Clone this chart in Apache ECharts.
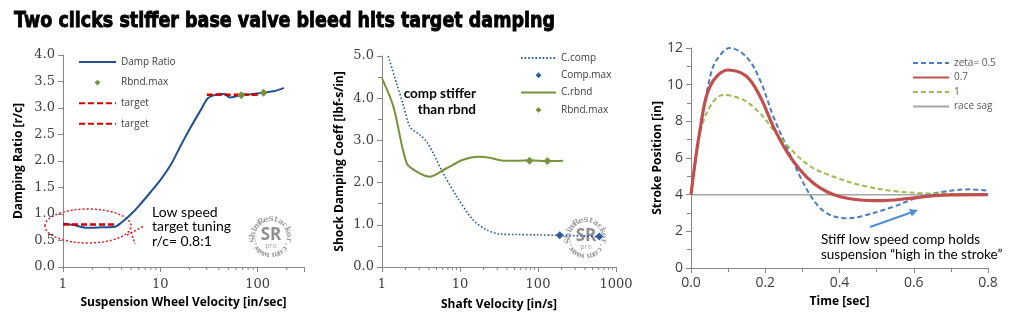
<!DOCTYPE html>
<html>
<head>
<meta charset="utf-8">
<script src="https://cdn.jsdelivr.net/npm/echarts@6/dist/echarts.min.js"></script>
<style>
  html, body { margin: 0; padding: 0; background: #fff; }
  #chart { width: 1024px; height: 329px; }
</style>
</head>
<body>
<div id="chart"></div>
<script>
// ---- left panel: damping ratio vs wheel velocity
const dampVel = [1, 1.3, 1.75, 2.5, 3.4, 4.0, 4.9, 6, 8, 10, 13, 16, 20, 26, 31, 37, 41, 46, 52, 60, 67, 85, 115, 150, 186];
const dampRatio = [0.82, 0.79, 0.74, 0.75, 0.76, 0.84, 0.98, 1.15, 1.42, 1.64, 1.95, 2.27, 2.6, 2.96, 3.19, 3.25, 3.27, 3.26, 3.2, 3.22, 3.24, 3.26, 3.29, 3.32, 3.38];
const wheelMaxVel = [68, 115];
const wheelMaxRatio = [3.24, 3.29];
const targetLowVel = [1, 3.6];
const targetLowRatio = [0.8, 0.8];
const targetHighVel = [30, 105];
const targetHighRatio = [3.25, 3.25];

// ---- middle panel: damping coefficient vs shaft velocity
const compVel = [1.2, 1.54, 1.9, 2.29, 3.07, 3.73, 4.55, 6.1, 9.1, 14.8, 22, 32.5, 53, 100, 190, 620];
const compCoef = [5.0, 4.35, 3.8, 3.32, 3.13, 2.97, 2.69, 2.22, 1.67, 1.11, 0.88, 0.78, 0.77, 0.76, 0.75, 0.72];
const compMaxVel = [190, 610];
const compMaxCoef = [0.75, 0.72];
const rbndVel = [1, 1.4, 2.07, 2.78, 4.1, 6.7, 11, 17, 24, 36, 53, 79, 130, 210];
const rbndCoef = [4.47, 3.8, 2.46, 2.26, 2.14, 2.34, 2.54, 2.61, 2.59, 2.52, 2.52, 2.53, 2.51, 2.52];
const rbndMaxVel = [78, 132];
const rbndMaxCoef = [2.52, 2.51];

// ---- right panel: stroke position vs time
const t05 = [0, 0.024, 0.051, 0.069, 0.105, 0.15, 0.186, 0.222, 0.258, 0.294, 0.33, 0.366, 0.42, 0.455, 0.545, 0.617, 0.68, 0.752, 0.8];
const z05 = [4.0, 7.5, 10.4, 11.35, 12.0, 11.5, 10.25, 8.25, 6.6, 4.98, 3.71, 2.98, 2.71, 2.8, 3.34, 3.89, 4.16, 4.29, 4.22];
const t07 = [0, 0.024, 0.051, 0.1, 0.15, 0.186, 0.222, 0.258, 0.294, 0.33, 0.366, 0.402, 0.455, 0.51, 0.59, 0.68, 0.8];
const z07 = [4.0, 7.5, 9.9, 10.8, 10.45, 9.35, 7.7, 6.35, 5.35, 4.62, 4.16, 3.89, 3.71, 3.67, 3.8, 3.98, 4.0];
const t10 = [0, 0.024, 0.051, 0.087, 0.141, 0.186, 0.222, 0.258, 0.294, 0.33, 0.384, 0.455, 0.545, 0.635, 0.8];
const z10 = [4.0, 7.3, 8.8, 9.44, 9.17, 8.44, 7.53, 6.71, 5.98, 5.44, 4.98, 4.53, 4.2, 4.07, 4.02];
const sagT = [0, 0.8];
const sagY = [4, 4];

// minor tick values for the log axes
const minorTicksLeft = [2, 3, 4, 5, 6, 7, 8, 9, 20, 30, 40, 50, 60, 70, 80, 90, 200];
const minorTicksMid = [2, 3, 4, 5, 6, 7, 8, 9, 20, 30, 40, 50, 60, 70, 80, 90, 200, 300, 400, 500, 600, 700, 800, 900];

const zip = (xs, ys) => xs.map((x, i) => [x, ys[i]]);

const AXIS = '#868686';
const LABEL = '#404040';
const SERIF = 'DejaVu Serif';
const SANS = 'Open Sans';
const NOTE = 'Lato';
// small diamond legend icon, padded so it keeps its size inside the wide legend box
const DIAMOND = 'path://M-1.7,-1.7M0,-1L1,0L0,1L-1,0ZM1.7,1.7';
const LINE_ONLY = {itemStyle: {opacity: 0}};

const chart = echarts.init(document.getElementById('chart'), null, {renderer: 'canvas'});

function logAxis(gridIndex, max, name, gap){
    return {
        type: 'log', logBase: 10, gridIndex, min: 1, max,
        name, nameLocation: 'middle', nameGap: gap,
        nameTextStyle: {fontFamily: SANS, fontWeight: 'bold', fontSize: 12, color: '#000'},
        axisLine: {lineStyle: {color: AXIS}},
        axisTick: {show: true, length: 5, lineStyle: {color: AXIS}},
        splitLine: {show: false},
        axisLabel: {
            fontFamily: SERIF, fontSize: 13, color: LABEL, margin: 11,
            formatter: v => (Math.abs(Math.log10(v) - Math.round(Math.log10(v))) < 1e-6 ? String(Math.round(v)) : '')
        }
    };
}

function valAxis(gridIndex, max, interval, name, gap, font, fmt, minor){
    return {
        type: 'value', gridIndex, min: 0, max, interval,
        name, nameLocation: 'middle', nameGap: gap,
        nameTextStyle: {fontFamily: SANS, fontWeight: 'bold', fontSize: 12, color: '#000'},
        axisLine: {show: true, lineStyle: {color: AXIS}},
        axisTick: {show: true, length: 5, lineStyle: {color: AXIS}},
        minorTick: {show: !!minor, splitNumber: 2, length: 4, lineStyle: {color: AXIS}},
        splitLine: {show: false},
        axisLabel: {fontFamily: font, fontSize: font === SERIF ? 13 : 14, color: LABEL, margin: 8, formatter: fmt}
    };
}

// little minor ticks under a log axis, placed through the axis scale
function minorTickSeries(xi, yi, vals){
    return {
        type: 'custom', xAxisIndex: xi, yAxisIndex: yi, silent: true, clip: false,
        data: vals.map(v => [v, 0]),
        renderItem(params, api){
            const p = api.coord([api.value(0), api.value(1)]);
            return {type: 'line', shape: {x1: p[0], y1: p[1], x2: p[0], y2: p[1] + 3}, style: {stroke: AXIS, lineWidth: 1}};
        }
    };
}

// circular "ShimReStackor" stamp
function watermark(cx, cy){
    const txt = 'www.ShimReStackor.com';
    const r = 18, a0 = -165, a1 = 165;
    const kids = [];
    for(let i = 0; i < txt.length; i++){
        const a = (a0 + (a1 - a0) * i / (txt.length - 1)) * Math.PI / 180;
        kids.push({
            type: 'text', x: cx + r * Math.sin(a), y: cy - r * Math.cos(a), rotation: -a,
            style: {text: txt[i], fill: '#a0a0a0', font: 'bold 8px ' + SERIF, align: 'center', verticalAlign: 'middle'}
        });
    }
    kids.push({type: 'text', x: cx, y: cy - 2, style: {text: 'SR', fill: '#8f8f8f', font: 'bold 17px ' + SANS, align: 'center', verticalAlign: 'middle'}});
    kids.push({type: 'text', x: cx, y: cy + 9, style: {text: 'pro', fill: '#a8a8a8', font: '7px ' + SANS, align: 'center', verticalAlign: 'middle'}});
    return {type: 'group', silent: true, z: 1, children: kids};
}

// title squeezed to the width of the original
const TITLE = 'Two clicks stiffer base valve bleed hits target damping';
const TITLE_FONT = 'bold 21px "DejaVu Sans"';
const ctx = document.createElement('canvas').getContext('2d');
ctx.font = TITLE_FONT;
const titleScale = 541 / ctx.measureText(TITLE).width;

const option = {
    animation: false,
    backgroundColor: '#fff',
    grid: [
        {left: 63, top: 55, width: 241, height: 212},
        {left: 382, top: 56, width: 234, height: 211},
        {left: 691, top: 48, width: 297, height: 220}
    ],
    xAxis: [
        logAxis(0, 300, 'Suspension Wheel Velocity [in/sec]', 30),
        logAxis(1, 1000, 'Shaft Velocity [in/s]', 32),
        valAxis(2, 0.8, 0.2, 'Time [sec]', 28, SANS, v => v.toFixed(1), true)
    ],
    yAxis: [
        valAxis(0, 4, 0.5, 'Damping Ratio [r/c]', 38, SERIF, v => v.toFixed(1), false),
        valAxis(1, 5, 1, 'Shock Damping Coeff [lbf-s/in]', 36, SERIF, v => v.toFixed(1), true),
        valAxis(2, 12, 2, 'Stroke Position [in]', 26, SANS, v => String(v), true)
    ],
    legend: [
        {
            orient: 'vertical', left: 73, top: 52, itemWidth: 37, itemHeight: 10, itemGap: 10.6,
            symbolKeepAspect: true,
            textStyle: {fontFamily: SANS, fontSize: 10, color: '#404040'},
            formatter: n => n.trim(),
            data: [
                {name: 'Damp Ratio', ...LINE_ONLY},
                {name: 'Rbnd.max', icon: DIAMOND},
                {name: 'target', ...LINE_ONLY},
                {name: 'target ', ...LINE_ONLY}
            ]
        },
        {
            orient: 'vertical', left: 515, top: 48, itemWidth: 35, itemHeight: 10, itemGap: 7.3,
            symbolKeepAspect: true,
            textStyle: {fontFamily: SANS, fontSize: 10, color: '#404040'},
            formatter: n => n.trim(),
            data: [
                {name: 'C.comp', ...LINE_ONLY},
                {name: 'Comp.max', icon: DIAMOND},
                {name: 'C.rbnd', ...LINE_ONLY},
                {name: 'Rbnd.max ', icon: DIAMOND}
            ]
        },
        {
            orient: 'vertical', left: 907, top: 53, itemWidth: 36, itemHeight: 10, itemGap: 4.5,
            textStyle: {fontFamily: SANS, fontSize: 10, color: '#595959'},
            data: [
                {name: 'zeta= 0.5', ...LINE_ONLY},
                {name: '0.7', ...LINE_ONLY},
                {name: '1', ...LINE_ONLY},
                {name: 'race sag', ...LINE_ONLY}
            ]
        }
    ],
    series: [
        // left
        {name: 'Damp Ratio', type: 'line', xAxisIndex: 0, yAxisIndex: 0, data: zip(dampVel, dampRatio),
            smooth: 0.3, symbol: 'none', lineStyle: {color: '#24508e', width: 2}, itemStyle: {color: '#24508e'}},
        {name: 'target', type: 'line', xAxisIndex: 0, yAxisIndex: 0, data: zip(targetLowVel, targetLowRatio),
            symbol: 'none', lineStyle: {color: '#d00000', width: 2.5, type: [6, 3]}, itemStyle: {color: '#d00000'}},
        {name: 'target ', type: 'line', xAxisIndex: 0, yAxisIndex: 0, data: zip(targetHighVel, targetHighRatio),
            symbol: 'none', lineStyle: {color: '#d00000', width: 2.5, type: [6, 3]}, itemStyle: {color: '#d00000'}},
        {name: 'Rbnd.max', type: 'scatter', xAxisIndex: 0, yAxisIndex: 0, data: zip(wheelMaxVel, wheelMaxRatio),
            symbol: 'diamond', symbolSize: 8, itemStyle: {color: '#77933c', opacity: 1}, z: 5},
        minorTickSeries(0, 0, minorTicksLeft),
        // middle
        {name: 'C.comp', type: 'line', xAxisIndex: 1, yAxisIndex: 1, data: zip(compVel, compCoef),
            smooth: 0.3, symbol: 'none', lineStyle: {color: '#2e5c9c', width: 1.6, type: [1.6, 2]}, itemStyle: {color: '#2e5c9c'}},
        {name: 'Comp.max', type: 'scatter', xAxisIndex: 1, yAxisIndex: 1, data: zip(compMaxVel, compMaxCoef),
            symbol: 'diamond', symbolSize: 8, itemStyle: {color: '#2e5c9c', opacity: 1}, z: 5},
        {name: 'C.rbnd', type: 'line', xAxisIndex: 1, yAxisIndex: 1, data: zip(rbndVel, rbndCoef),
            smooth: 0.3, symbol: 'none', lineStyle: {color: '#77933c', width: 2}, itemStyle: {color: '#77933c'}},
        {name: 'Rbnd.max ', type: 'scatter', xAxisIndex: 1, yAxisIndex: 1, data: zip(rbndMaxVel, rbndMaxCoef),
            symbol: 'diamond', symbolSize: 8, itemStyle: {color: '#77933c', opacity: 1}, z: 5},
        minorTickSeries(1, 1, minorTicksMid),
        // right
        {name: 'race sag', type: 'line', xAxisIndex: 2, yAxisIndex: 2, data: zip(sagT, sagY),
            symbol: 'none', lineStyle: {color: '#a6a6a6', width: 1.5}, itemStyle: {color: '#a6a6a6'}},
        {name: 'zeta= 0.5', type: 'line', xAxisIndex: 2, yAxisIndex: 2, data: zip(t05, z05),
            smooth: 0.35, symbol: 'none', lineStyle: {color: '#4a7ebf', width: 2, type: [5, 3]}, itemStyle: {color: '#4a7ebf'}},
        {name: '1', type: 'line', xAxisIndex: 2, yAxisIndex: 2, data: zip(t10, z10),
            smooth: 0.35, symbol: 'none', lineStyle: {color: '#9bbb59', width: 2, type: [5, 3]}, itemStyle: {color: '#9bbb59'}},
        {name: '0.7', type: 'line', xAxisIndex: 2, yAxisIndex: 2, data: zip(t07, z07),
            smooth: 0.35, symbol: 'none', lineStyle: {color: '#c0504d', width: 3.2}, itemStyle: {color: '#c0504d'}}
    ],
    graphic: [
        {type: 'text', x: 14, y: 11, scaleX: titleScale,
            style: {text: TITLE, font: TITLE_FONT, fill: '#000', stroke: '#000', lineWidth: 0.9}},
        // left annotation
        {type: 'ellipse', shape: {cx: 88, cy: 226, rx: 43, ry: 17}, silent: true,
            style: {fill: 'none', stroke: '#e02020', lineWidth: 1.5, lineDash: [2, 2]}},
        {type: 'line', shape: {x1: 127, y1: 235, x2: 144, y2: 226}, silent: true,
            style: {stroke: '#e02020', lineWidth: 1.5, lineDash: [2, 2]}},
        {type: 'line', shape: {x1: 131, y1: 232, x2: 135, y2: 244}, silent: true,
            style: {stroke: '#e02020', lineWidth: 1.5, lineDash: [2, 2]}},
        {type: 'text', x: 152, y: 205, style: {text: 'Low speed\ntarget tuning\nr/c= 0.8:1', font: '14px ' + NOTE, lineHeight: 14.5, fill: '#000'}},
        watermark(271, 237),
        // middle annotation
        {type: 'text', x: 476, y: 86, style: {text: 'comp stiffer\nthan rbnd', font: 'bold 13.5px ' + NOTE, lineHeight: 16, fill: '#000', align: 'right'}},
        watermark(586, 238),
        // right annotation
        {type: 'line', shape: {x1: 870, y1: 227, x2: 911, y2: 212.5}, silent: true, style: {stroke: '#4f8fd6', lineWidth: 2}},
        {type: 'polygon', shape: {points: [[918, 210], [911.8, 216.5], [909.1, 208.9]]}, silent: true, style: {fill: '#4f8fd6'}},
        {type: 'text', x: 821, y: 232, style: {text: 'Stiff low speed comp holds\nsuspension \u201chigh in the stroke\u201d', font: '13.5px ' + NOTE, lineHeight: 15, fill: '#000'}}
    ]
};

chart.setOption(option);
</script>
</body>
</html>
